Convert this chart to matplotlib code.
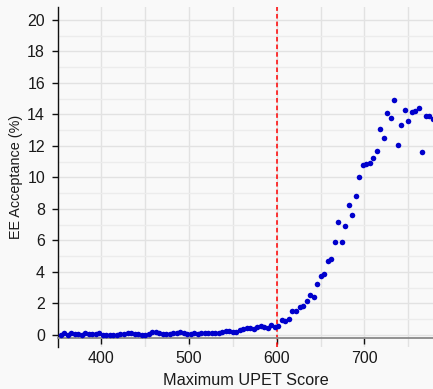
import numpy as np
import matplotlib
matplotlib.use("Agg")
import matplotlib.pyplot as plt
from matplotlib.ticker import MultipleLocator

plt.rcParams['font.family'] = ['Liberation Sans', 'DejaVu Sans']

# Maximum UPET score (bin centres, 4-point bins)
scores = np.arange(354, 779, 4)

# EE acceptance rate (%) for each score bin
acceptance = [
    0.02, 0.12, 0.03, 0.15, 0.05, 0.08, 0.03, 0.10, 0.05, 0.07,
    0.04, 0.10, 0.03, 0.03, 0.02, 0.03, 0.03, 0.04, 0.04, 0.10,
    0.11, 0.05, 0.07, 0.03, 0.02, 0.04, 0.19, 0.21, 0.13, 0.07,
    0.04, 0.05, 0.11, 0.15, 0.19, 0.11, 0.07, 0.05, 0.11, 0.07,
    0.13, 0.13, 0.13, 0.13, 0.13, 0.13, 0.16, 0.25, 0.25, 0.20,
    0.20, 0.30, 0.35, 0.45, 0.46, 0.35, 0.53, 0.58, 0.50, 0.46,
    0.64, 0.53, 0.57, 0.94, 0.92, 1.04, 1.51, 1.52, 1.76, 1.84,
    2.18, 2.54, 2.43, 3.22, 3.75, 3.87, 4.68, 4.80, 5.90, 7.20,
    5.93, 6.90, 8.23, 7.60, 8.83, 10.01, 10.77, 10.85, 10.92, 11.24,
    11.70, 13.10, 12.51, 14.07, 13.78, 14.92, 12.04, 13.33, 14.29, 13.61,
    14.18, 14.25, 14.43, 11.62, 13.93, 13.90, 13.69,
]

threshold = 600
x_major = [400, 500, 600, 700]
y_major = list(range(0, 21, 2))

bg = '#f9f9f9'
W, H = 433, 389
fig = plt.figure(figsize=(W / 100, H / 100), dpi=100, facecolor=bg)
ax = fig.add_axes([58 / W, 42 / H, 375 / W, 340 / H], facecolor=bg)

ax.set_xlim(350.8, 778.1)
ax.set_ylim(-0.762, 20.825)

# Grid: vertical every 50, horizontal every 1 (odd values lighter)
ax.xaxis.set_major_locator(plt.FixedLocator(x_major))
ax.xaxis.set_minor_locator(MultipleLocator(50))
ax.yaxis.set_major_locator(plt.FixedLocator(y_major))
ax.yaxis.set_minor_locator(MultipleLocator(1))
ax.set_axisbelow(True)
ax.grid(which='major', axis='both', color='#e2e2e2', lw=1.0)
ax.grid(which='minor', axis='x', color='#e2e2e2', lw=1.0)
ax.grid(which='minor', axis='y', color='#ececec', lw=1.0)

ax.axvline(threshold, color='#ff0000', lw=1.1, ls=(0, (3, 2)), zorder=2)

ax.plot(scores, acceptance, 'o', color='#0000cc', ms=4.0, mec='none', zorder=3)

for s in ('top', 'right'):
    ax.spines[s].set_visible(False)
ax.spines['left'].set_color('#111111')
ax.spines['left'].set_linewidth(1.0)
ax.spines['bottom'].set_position(('data', -0.19))
ax.spines['bottom'].set_color('#8a8a8a')
ax.spines['bottom'].set_linewidth(1.3)

ax.tick_params(which='major', direction='out', length=4.3, width=1.0,
               color='#111111', labelsize=11.5, labelcolor='#1a1a1a', pad=5)
ax.tick_params(which='minor', length=0)

ax.set_xlabel('Maximum UPET Score', fontsize=11.7, color='#1a1a1a', labelpad=5)
ax.set_ylabel('EE Acceptance (%)', fontsize=10.4, color='#1a1a1a', labelpad=3)

fig.savefig('out.png', dpi=100, facecolor=bg)
